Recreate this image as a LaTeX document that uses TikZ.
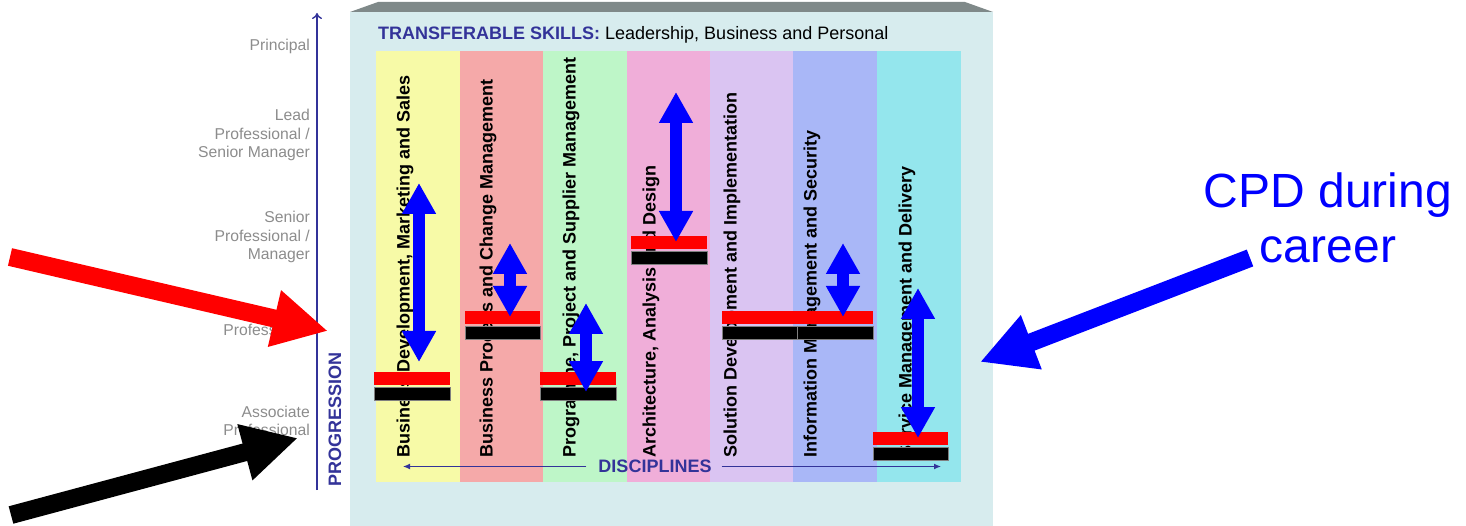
\documentclass[tikz,border=0pt]{standalone}
\usepackage{fontspec}
\setmainfont{Liberation Sans}
\usetikzlibrary{arrows.meta}

\definecolor{azulescuro}{HTML}{333399}
\definecolor{cinza}{HTML}{8C8C8C}
\definecolor{fundo}{HTML}{D7ECEE}
\definecolor{topo}{HTML}{7F8989}
\definecolor{amarelo}{HTML}{F7FAA7}
\definecolor{salmao}{HTML}{F5A9A9}
\definecolor{verde}{HTML}{BEF6C8}
\definecolor{rosa}{HTML}{F0AED9}
\definecolor{lilas}{HTML}{DAC4F2}
\definecolor{anil}{HTML}{A9B7F7}
\definecolor{ciano}{HTML}{94E6ED}

\begin{document}
\begin{tikzpicture}[x=1pt, y=-1pt,
    nivel/.style={text=cinza, font=\fontsize{15.7}{18.5}\selectfont, align=right, anchor=east, inner sep=0pt},
    disciplina/.style={rotate=90, anchor=west, inner sep=0pt, font=\fontsize{18}{20}\selectfont\bfseries},
    rotulo/.style={text=azulescuro, font=\fontsize{18}{20}\selectfont\bfseries, inner sep=0pt},
    eixo/.style={draw=azulescuro, line width=1.4pt},
    vaivem/.style={draw=blue, line width=12pt, {Triangle[width=32pt,length=31pt]}-{Triangle[width=32pt,length=31pt]}},
    setagrande/.style={draw=#1, line width=18pt, -{Triangle[width=54pt,length=55pt]}}]
      \useasboundingbox (0,0) rectangle (1466,526);

      % Caixa
      \fill[fundo] (350,12) rectangle (993,526);
      \fill[topo] (378,2) -- (965,2) -- (993,12) -- (350,12) -- cycle;
      \node[anchor=base west, inner sep=0pt, font=\fontsize{18}{20}\selectfont] (titulo) at (378,40)
        {\textcolor{azulescuro}{\bfseries TRANSFERABLE SKILLS:} Leadership, Business and Personal};

      % Faixas
      \fill[amarelo] (376,51) rectangle (460,482);
      \fill[salmao] (460,51) rectangle (543,482);
      \fill[verde] (543,51) rectangle (627,482);
      \fill[rosa] (627,51) rectangle (710,482);
      \fill[lilas] (710,51) rectangle (793,482);
      \fill[anil] (793,51) rectangle (877,482);
      \fill[ciano] (877,51) rectangle (961,482);

      % Disciplinas
      \node[disciplina] (bdms) at (405,458) {Business Development, Marketing and Sales};
      \node[disciplina] (bpcm) at (488,458) {Business Process and Change Management};
      \node[disciplina] (ppsm) at (571,458) {Programme, Project and Supplier Management};
      \node[disciplina] (aad) at (651,458) {Architecture, Analysis and Design};
      \node[disciplina] (sdi) at (732,458) {Solution Development and Implementation};
      \node[disciplina] (ims) at (812,458) {Information Management and Security};
      \node[disciplina] (smd) at (907,458) {Service Management and Delivery};

      % Eixo das disciplinas
      \node[rotulo] (disc) at (655,466.5) {DISCIPLINES};
      \coordinate (discesq) at (403,466.5);
      \coordinate (discdir) at (941,466.5);
      \draw[eixo, line width=1.2pt, -{Latex[length=7pt,width=6pt]}] ([xshift=-12pt]disc.west) -- (discesq);
      \draw[eixo, line width=1.2pt, -{Latex[length=7pt,width=6pt]}] ([xshift=10pt]disc.east) -- (discdir);

      % Barras de nivel
      \foreach \xa/\xb/\ya in {374/450/372, 465/540/311, 540/616/372, 631/707/236,
                               722/797/311, 797/873/311, 873/948/432} {
        \fill[red] (\xa,\ya) rectangle (\xb,\ya+13);
        \filldraw[fill=black, draw=gray, line width=0.6pt] (\xa,\ya+15) rectangle (\xb,\ya+28);
      }

      % Setas duplas
      \foreach \x/\ya/\yb [count=\i] in {419/183/362, 510/243/317, 586/303/392, 676/92/242,
                                         843/243/317, 918/288/438} {
        \coordinate (cima\i) at (\x,\ya);
        \coordinate (baixo\i) at (\x,\yb);
        \draw[vaivem] (cima\i) -- (baixo\i);
      }

      % Niveis
      \node[nivel] (principal) at (310,46) {Principal};
      \node[nivel] (lead) at (310,135) {Lead\\Professional /\\Senior Manager};
      \node[nivel] (senior) at (310,237) {Senior\\Professional /\\Manager};
      \node[nivel] (prof) at (310,330) {Professional};
      \node[nivel] (assoc) at (310,421) {Associate\\Professional};

      % Eixo da progressao
      \coordinate (progbase) at (317,490);
      \coordinate (progtopo) at (317,13);
      \draw[eixo, -{To[length=6pt,width=10pt]}] (progbase) -- (progtopo);
      \node[rotulo, rotate=90, anchor=west] (prog) at (335,487) {PROGRESSION};

      % Setas grandes
      \coordinate (vermcauda) at (10,257);
      \coordinate (vermponta) at (328,331);
      \draw[setagrande=red] (vermcauda) -- (vermponta);
      \coordinate (pretocauda) at (11,515);
      \coordinate (pretoponta) at (298,438);
      \draw[setagrande=black] (pretocauda) -- (pretoponta);
      \coordinate (azulcauda) at (1250,258);
      \coordinate (azulponta) at (980,362);
      \draw[setagrande=blue] (azulcauda) -- (azulponta);

      % CPD
      \node[text=blue, align=center, anchor=base, inner sep=0pt, font=\fontsize{48}{55}\selectfont] (cpd) at (1328,263)
        {CPD during\\career};
    \end{tikzpicture}
\end{document}
